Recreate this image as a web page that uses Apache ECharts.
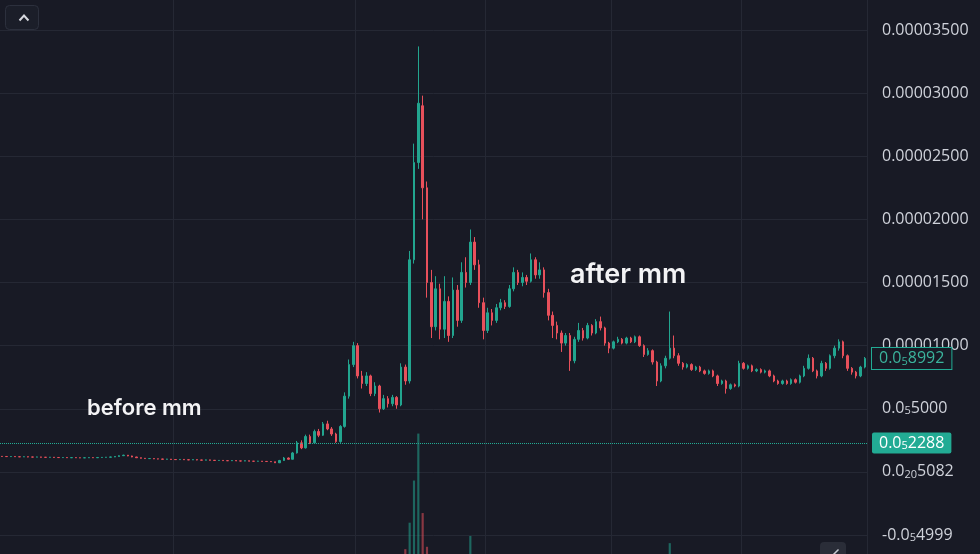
<!DOCTYPE html>
<html>
<head>
<meta charset="utf-8">
<title>before mm / after mm</title>
<script src="https://cdn.jsdelivr.net/npm/echarts@6/dist/echarts.min.js"></script>
<style>
  html, body { margin: 0; padding: 0; background: #181a25; }
  #chart { width: 980px; height: 554px; }
</style>
</head>
<body>
<div id="chart"></div>
<script>
// prices are in units of 1e-6 (micro), candles are [open, close, low, high]
const candles = [
  [1.23,1.22,1.20,1.24],[1.22,1.21,1.19,1.23],[1.21,1.22,1.20,1.24],[1.22,1.20,1.19,1.23],[1.20,1.19,1.17,1.21],
  [1.19,1.20,1.18,1.22],[1.20,1.18,1.16,1.21],[1.18,1.17,1.15,1.19],[1.17,1.18,1.16,1.20],[1.18,1.16,1.14,1.19],
  [1.16,1.15,1.13,1.17],[1.15,1.16,1.14,1.18],[1.16,1.14,1.12,1.17],[1.14,1.13,1.11,1.15],[1.13,1.14,1.12,1.16],
  [1.14,1.12,1.10,1.15],[1.12,1.13,1.11,1.15],[1.13,1.12,1.10,1.14],[1.12,1.11,1.09,1.13],[1.11,1.12,1.10,1.14],
  [1.12,1.13,1.11,1.15],[1.13,1.12,1.10,1.14],[1.12,1.14,1.11,1.16],[1.14,1.15,1.13,1.17],[1.15,1.16,1.14,1.18],
  [1.16,1.18,1.15,1.20],[1.18,1.22,1.17,1.24],[1.22,1.28,1.21,1.31],[1.28,1.32,1.26,1.36],[1.32,1.26,1.24,1.34],
  [1.26,1.18,1.16,1.28],[1.18,1.12,1.10,1.19],[1.12,1.08,1.06,1.13],[1.08,1.05,1.03,1.09],[1.05,1.06,1.04,1.08],
  [1.06,1.03,1.01,1.07],[1.03,1.02,1.00,1.04],[1.02,1.00,0.98,1.03],[1.00,1.01,0.99,1.03],[1.01,0.98,0.96,1.02],
  [0.98,0.97,0.95,0.99],[0.97,0.99,0.96,1.01],[0.99,0.96,0.94,1.00],[0.96,0.95,0.93,0.97],[0.95,0.97,0.94,0.99],
  [0.97,0.94,0.92,0.98],[0.94,0.93,0.91,0.95],[0.93,0.95,0.92,0.97],[0.95,0.92,0.90,0.96],[0.92,0.90,0.88,0.93],
  [0.90,0.91,0.89,0.93],[0.91,0.89,0.87,0.92],[0.89,0.88,0.86,0.90],[0.88,0.90,0.87,0.92],[0.90,0.87,0.85,0.91],
  [0.87,0.86,0.84,0.88],[0.86,0.88,0.85,0.90],[0.88,0.85,0.83,0.89],[0.85,0.84,0.82,0.86],[0.84,0.85,0.83,0.87],
  [0.85,0.83,0.81,0.86],[0.83,0.82,0.80,0.84],[0.82,0.80,0.78,0.83],[0.80,0.72,0.70,0.81],
  [0.72,0.90,0.70,0.95],[0.90,1.10,0.88,1.18],[1.10,1.00,0.96,1.14],[1.00,1.50,0.98,1.58],[1.50,2.30,1.45,2.45],
  [2.30,1.90,1.80,2.50],[1.90,2.80,1.85,2.95],[2.80,2.30,2.20,2.95],[2.30,3.20,2.25,3.35],[3.20,2.90,2.75,3.40],
  [2.90,3.80,2.85,3.95],[3.80,3.40,3.30,4.05],[3.40,3.00,2.85,3.55],[3.00,2.40,2.30,3.10],[2.40,3.60,2.30,3.70],
  [3.60,6.00,3.50,6.30],[6.00,8.50,5.80,8.90],[8.50,10.00,8.30,10.30],[10.00,7.60,7.40,10.20],[7.60,7.00,6.60,8.00],
  [7.00,7.60,6.80,7.90],[7.60,6.20,6.00,7.70],[6.20,6.80,6.00,7.10],[6.80,5.00,4.70,6.90],[5.00,5.80,4.90,6.10],
  [5.80,5.40,5.10,6.00],[5.40,5.90,5.20,6.10],[5.90,5.30,5.00,6.00],[5.30,8.30,5.20,8.60],[8.30,7.20,6.90,8.50],
  [7.20,16.80,7.00,17.50],[16.80,24.50,16.50,26.00],[24.50,29.20,24.00,33.70],[29.00,22.50,20.00,29.80],[22.50,15.00,13.80,23.00],
  [15.00,11.50,10.60,16.00],[11.50,14.50,11.20,15.50],[14.50,11.30,10.50,14.90],[11.30,13.50,10.60,15.50],[13.50,10.80,10.30,13.90],
  [10.80,14.40,10.60,15.40],[14.40,12.00,11.50,14.80],[12.00,15.80,11.80,16.60],[15.80,15.00,14.60,17.00],[15.00,18.20,14.80,19.20],
  [18.20,16.40,16.00,18.60],[16.40,13.40,13.00,16.80],[13.40,11.20,10.50,13.80],[11.20,12.60,11.00,13.00],[12.60,12.00,11.60,12.90],
  [12.00,13.00,11.80,13.30],[13.00,13.40,12.80,13.70],[13.40,13.10,12.90,13.60],[13.10,14.50,13.00,14.80],[14.50,15.80,14.30,16.20],
  [15.80,15.00,14.80,16.00],[15.00,15.40,14.70,15.80],[15.40,15.10,14.80,15.60],[15.10,16.80,15.00,17.30],[16.80,15.60,15.30,17.00],
  [15.60,16.00,15.30,16.60],[16.00,14.20,13.80,16.20],[14.20,12.40,12.00,14.50],[12.40,11.60,10.60,12.70],[11.60,11.00,10.50,11.90],
  [11.00,10.20,9.50,11.20],[10.20,10.80,10.00,11.00],[10.80,8.80,8.00,11.00],[8.80,10.50,8.60,10.70],[10.50,11.20,10.30,11.80],
  [11.20,10.60,10.40,11.40],[10.60,11.60,10.50,11.80],[11.60,11.00,10.80,11.70],[11.00,11.90,10.90,12.10],[11.90,11.40,11.20,12.30],
  [11.40,10.20,10.00,11.50],[10.20,9.80,9.40,10.30],[9.80,10.30,9.70,10.40],[10.30,10.50,10.20,10.70],[10.50,10.20,10.10,10.60],
  [10.20,10.60,10.10,10.70],[10.60,10.30,10.20,10.70],[10.30,10.70,10.20,10.80],[10.70,10.00,9.90,10.80],[10.00,9.30,9.10,10.10],
  [9.30,9.60,9.20,9.80],[9.60,8.70,8.50,9.70],[8.70,7.20,6.80,8.80],[7.20,8.40,7.10,8.60],[8.40,9.00,8.20,9.20],
  [9.00,9.80,8.90,12.70],[9.80,9.20,9.00,10.80],[9.20,8.60,8.40,9.40],[8.60,8.30,8.10,8.70],[8.30,8.50,8.20,8.60],
  [8.50,8.10,8.00,8.60],[8.10,8.30,8.00,8.40],[8.30,8.00,7.90,8.40],[8.00,7.80,7.70,8.10],[7.80,8.00,7.70,8.10],
  [8.00,7.60,7.50,8.10],[7.60,7.00,6.80,7.70],[7.00,7.20,6.90,7.30],[7.20,6.60,6.20,7.30],[6.60,6.90,6.50,7.00],
  [6.90,6.80,6.70,7.00],[6.80,8.60,6.70,8.80],[8.60,8.20,8.10,8.70],[8.20,8.40,8.10,8.50],[8.40,8.00,7.90,8.50],
  [8.00,8.10,7.90,8.20],[8.10,7.90,7.80,8.20],[7.90,8.00,7.80,8.10],[8.00,7.60,7.50,8.10],[7.60,7.20,7.10,7.70],
  [7.20,7.00,6.90,7.30],[7.00,7.20,6.90,7.30],[7.20,7.00,6.90,7.30],[7.00,7.30,6.90,7.40],[7.30,7.10,7.00,7.40],
  [7.10,7.60,7.00,7.70],[7.60,8.20,7.50,8.40],[8.20,9.00,8.10,9.30],[9.00,8.00,7.90,9.10],[8.00,7.60,7.40,8.10],
  [7.60,8.60,7.50,8.80],[8.60,8.20,8.00,8.70],[8.20,9.20,8.10,9.30],[9.20,9.80,9.00,10.00],[9.80,10.30,9.60,10.50],
  [10.30,9.20,9.00,10.40],[9.20,8.20,8.00,9.30],[8.20,7.90,7.70,8.30],[7.90,7.60,7.40,8.00],[7.60,8.30,7.50,8.40],
  [8.30,8.99,8.20,9.10]
];

// volume, same order as the candles
const volume = [
  0,0,0,0,0,0,0,0,0,0, 0,0,0,0,0,0,0,0,0,0,
  0,0,0,0,0,0,0,0,0,0, 0,0,0,0,0,0,0,0,0,0,
  0,0,0,0,0,0,0,0,0,0, 0,0,0,0,0,0,0,0,0,0,
  0,0,0,0,0,0,0,0,0,0, 0,0,0,0,0,0,0,0,0,0,
  0,0,0,0,0,0,0,0,0,0, 0,0,0,4,26,61,100,34,6,0,
  0,0,0,0,0,0,0,0,15,0, 0,0,0,0,0,0,0,0,0,0,
  0,0,0,0,0,0,0,0,0,0, 0,0,0,0,0,0,0,0,0,0,
  0,0,0,0,0,0,0,0,0,0, 0,0,0,0,9,0,0,0,0,0,
  0,0,0,0,0,0,0,0,0,0, 0,0,0,0,0,0,0,0,0,0,
  0,0,0,0,0,0,0,0,0,0, 0,0,0,0,0,0,0,0,0,0
];

const tickValues = [-5, 0, 5, 10, 15, 20, 25, 30, 35];
const tickLabels = ['-0.0₅4999', '0.0₂₀5082', '0.0₅5000', '0.00001000', '0.00001500',
  '0.00002000', '0.00002500', '0.00003000', '0.00003500'];

const lastPrice = 8.992;
const lastPriceLabel = '0.0₅8992';
const refPrice = 2.288;
const refPriceLabel = '0.0₅2288';

// candle indexes where the time gridlines fall
const timeLines = [40, 82, 112, 141, 171];

const C = {
  bg: '#181a25',
  grid: '#252834',
  up: '#22a58f',
  down: '#e8505b',
  text: '#cfd2da',
  tag: '#22ab94'
};
const FONT = "'Open Sans', 'Noto Sans', sans-serif";

const SUB = '₀₁₂₃₄₅₆₇₈₉';
// turn subscript digits into a rich-text segment
const toRich = (s) => s.replace(/[₀-₉]+/g, (m) =>
  '{s|' + [...m].map((ch) => SUB.indexOf(ch)).join('') + '}');

const cats = candles.map((_, i) => i);
const richSub = (color) => ({
  s: { fontSize: 11, fontFamily: FONT, color, verticalAlign: 'bottom', padding: [5, 0, 0, 0] }
});

const chart = echarts.init(document.getElementById('chart'));
chart.setOption({
  backgroundColor: C.bg,
  animation: false,
  grid: [
    { left: 0, right: 113, top: 30, bottom: 19 },
    { left: 0, right: 113, top: 0, bottom: 0 }
  ],
  xAxis: [
    {
      type: 'category', gridIndex: 0, data: cats,
      axisLine: { show: false }, axisTick: { show: false },
      axisLabel: { show: false }, splitLine: { show: false }
    },
    {
      type: 'category', gridIndex: 1, data: cats,
      axisLine: { show: false }, axisTick: { show: false }, axisLabel: { show: false },
      splitLine: {
        show: true,
        interval: (i) => timeLines.includes(i),
        lineStyle: { color: C.grid, width: 1 }
      }
    }
  ],
  yAxis: [
    {
      type: 'value', gridIndex: 0, position: 'right',
      min: -5, max: 35, interval: 5,
      axisLine: { show: false }, axisTick: { show: false },
      axisLabel: {
        margin: 15, color: C.text, fontSize: 16, fontFamily: FONT,
        formatter: (v) => toRich(tickLabels[tickValues.findIndex((t) => Math.abs(t - v) < 1e-9)] || ''),
        rich: richSub(C.text)
      },
      splitLine: { lineStyle: { color: C.grid, width: 1 } }
    },
    {
      type: 'value', gridIndex: 1, position: 'right', min: 0, max: 460,
      axisLine: { show: true, lineStyle: { color: C.grid } },
      axisTick: { show: false }, axisLabel: { show: false }, splitLine: { show: false }
    }
  ],
  series: [
    {
      name: 'volume',
      type: 'bar',
      xAxisIndex: 1, yAxisIndex: 1,
      barWidth: '50%',
      data: volume.map((v, i) => ({
        value: v,
        itemStyle: { color: candles[i][1] >= candles[i][0] ? 'rgba(34,165,143,0.55)' : 'rgba(232,80,91,0.55)' }
      }))
    },
    {
      name: 'price',
      type: 'candlestick',
      xAxisIndex: 0, yAxisIndex: 0,
      barWidth: '45%',
      itemStyle: {
        color: C.up, color0: C.down,
        borderColor: C.up, borderColor0: C.down, borderWidth: 1
      },
      data: candles,
      markLine: {
        silent: true,
        symbol: 'none',
        animation: false,
        data: [
          {
            yAxis: refPrice,
            lineStyle: { color: C.tag, type: 'dotted', width: 1 },
            label: {
              position: 'end', distance: 5,
              formatter: () => toRich(refPriceLabel),
              color: '#ffffff', fontSize: 16, fontFamily: FONT,
              backgroundColor: C.tag, padding: [3, 7, 2, 7], borderRadius: 2,
              rich: richSub('#ffffff')
            }
          },
          {
            yAxis: lastPrice,
            lineStyle: { color: 'rgba(0,0,0,0)', width: 1 },
            label: {
              position: 'end', distance: 5,
              formatter: () => toRich(lastPriceLabel),
              color: '#3bb49d', fontSize: 16, fontFamily: FONT,
              backgroundColor: C.bg, borderColor: C.tag, borderWidth: 1,
              padding: [3, 7, 2, 7],
              rich: richSub('#3bb49d')
            }
          }
        ]
      }
    }
  ],
  graphic: [
    {
      type: 'text', left: 87, top: 397, z: 100,
      style: { text: 'before mm', fill: '#f3f3f5', font: "600 22px Inter, 'Noto Sans', sans-serif" }
    },
    {
      type: 'text', left: 570, top: 261, z: 100,
      style: { text: 'after mm', fill: '#f3f3f5', font: "600 27px Inter, 'Noto Sans', sans-serif" }
    },
    {
      type: 'rect', left: 5, top: 5, z: 100,
      shape: { width: 33, height: 24, r: 4 },
      style: { fill: '#1b1e29', stroke: '#2c303d', lineWidth: 1 }
    },
    {
      type: 'polyline', left: 17, top: 13, z: 101,
      shape: { points: [[0, 5], [4.5, 0], [9, 5]] },
      style: { stroke: '#d6d8de', lineWidth: 2, fill: null }
    },
    {
      type: 'rect', left: 820, top: 542, z: 100,
      shape: { width: 26, height: 20, r: 4 },
      style: { fill: '#2a2d38' }
    },
    {
      type: 'polyline', left: 829, top: 547, z: 101,
      shape: { points: [[0, 7], [7, 0]] },
      style: { stroke: '#c8cad2', lineWidth: 1.5, fill: null }
    }
  ]
});
</script>
</body>
</html>
